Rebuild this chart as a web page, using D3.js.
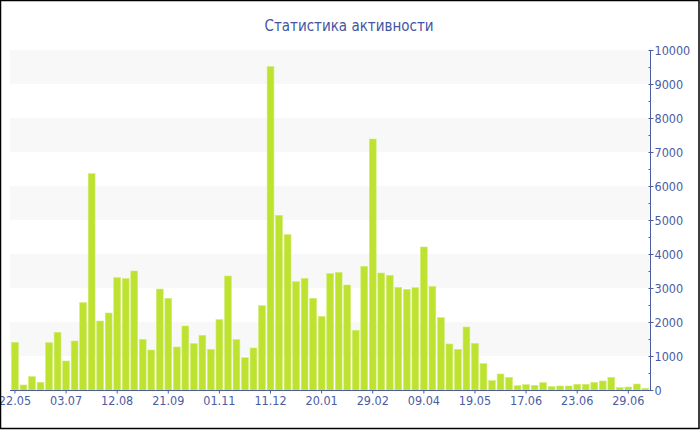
<!DOCTYPE html>
<html>
<head>
<meta charset="utf-8">
<script src="https://cdn.jsdelivr.net/npm/d3@7"></script>
<style>
  html, body { margin: 0; padding: 0; background: #fff; }
  svg { display: block; }
</style>
</head>
<body>
<svg id="chart" width="700" height="430"></svg>
<script>
const title = "Статистика активности";
const values = [1402, 147, 392, 226, 1392, 1696, 853, 1441, 2569, 6363,
  2029, 2265, 3304, 3275, 3500, 1490, 1176, 2970, 2696, 1265,
  1882, 1363, 1608, 1196, 2069, 3353, 1480, 951, 1235, 2480,
  9510, 5137, 4569, 3186, 3284, 2696, 2167, 3422, 3461, 3088,
  1755, 3637, 7382, 3441, 3373, 3020, 2961, 3010, 4206, 3049,
  2127, 1353, 1196, 1853, 1373, 775, 275, 471, 373, 127,
  157, 137, 216, 98, 118, 118, 167, 167, 225, 265,
  373, 69, 88, 176, 49];
const tickLabels = ["22.05", "03.07", "12.08", "21.09", "01.11", "11.12", "20.01",
  "29.02", "09.04", "19.05", "17.06", "23.06", "29.06"];
const yTicks = [0, 1000, 2000, 3000, 4000, 5000, 6000, 7000, 8000, 9000, 10000];
const yMax = 10000;

const svg = d3.select("#chart");
const axisColor = "#4b5ca3";
const font = "'DejaVu Sans Condensed', 'DejaVu Sans', sans-serif";

const idx = values.map((d, i) => i);
const x = d3.scaleBand().domain(idx).range([10.7, 649.6]).paddingInner(0.2).paddingOuter(0.1);
const y = d3.scaleLinear().domain([0, yMax]).range([390, 50]);

// grid bands
const bands = yTicks.filter(v => v % 2000 === 1000);
svg.append("g").selectAll("rect").data(bands).join("rect")
  .attr("x", 10).attr("width", 640)
  .attr("y", d => y(d + 1000)).attr("height", d => y(d) - y(d + 1000))
  .attr("fill", "#f8f8f8");

// bars
svg.append("g").selectAll("rect").data(values).join("rect")
  .attr("x", (d, i) => x(i))
  .attr("width", x.bandwidth())
  .attr("y", d => y(d))
  .attr("height", d => y(0) - y(d))
  .attr("fill", "#bde22f")
  .attr("stroke", "#d2ec72")
  .attr("stroke-width", 0.6);

// x axis
const tickIdx = tickLabels.map((t, k) => k * 6);
const xAxis = d3.axisBottom(x)
  .tickValues(tickIdx)
  .tickFormat((d) => tickLabels[d / 6])
  .tickSize(3).tickSizeOuter(0);
const gx = svg.append("g").attr("transform", "translate(0,390.5)").call(xAxis);
gx.select(".domain").attr("stroke", axisColor).attr("d", "M10,0H650.5");
gx.selectAll(".tick line").attr("stroke", axisColor);
gx.selectAll(".tick text").attr("fill", axisColor).attr("font-family", font)
  .attr("font-size", "12.5px").attr("dy", "0.95em").attr("y", 3);

// y axis
const yMinor = d3.range(500, yMax, 1000);
const gy = svg.append("g").attr("transform", "translate(650.5,0)");
gy.append("line").attr("x1", 0).attr("x2", 0).attr("y1", y(0)).attr("y2", y(yMax)).attr("stroke", axisColor);
gy.selectAll(".minor").data(yMinor).join("line").attr("class", "minor")
  .attr("x1", -2).attr("x2", 0).attr("y1", d => Math.round(y(d)) + 0.5).attr("y2", d => Math.round(y(d)) + 0.5)
  .attr("stroke", axisColor);
const yAxis = d3.axisRight(y).tickValues(yTicks).tickFormat(d3.format("d"))
  .tickSize(3).tickPadding(1).tickSizeOuter(0);
const gyy = gy.append("g").call(yAxis);
gyy.select(".domain").remove();
gyy.selectAll(".tick line").attr("x1", -2).attr("stroke", axisColor);
gyy.selectAll(".tick text").attr("fill", axisColor).attr("font-family", font).attr("font-size", "12.5px");

// title
svg.append("text").attr("x", 349).attr("y", 31).attr("text-anchor", "middle")
  .attr("font-family", font).attr("font-size", "15px").attr("fill", "#4355a2")
  .text(title);

// frame
svg.append("rect").attr("x", 0.5).attr("y", 0.5).attr("width", 698.5).attr("height", 428)
  .attr("fill", "none").attr("stroke", "#000").attr("stroke-width", 1.5);
</script>
</body>
</html>
